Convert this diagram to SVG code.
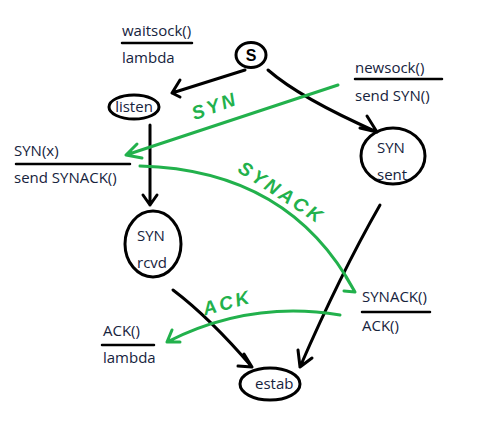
<svg xmlns="http://www.w3.org/2000/svg" width="502" height="439" viewBox="0 0 502 439">
<style>
.t{font-family:"Open Sans","Noto Sans","Liberation Sans",sans-serif;font-size:15px;fill:#16233d}
.k{fill:none;stroke:#000;stroke-width:3;stroke-linecap:round;stroke-linejoin:round}
.g{fill:none;stroke:#22b14c;stroke-width:3;stroke-linecap:round;stroke-linejoin:round}
.gl{font-family:"Liberation Sans",sans-serif;font-size:19px;font-weight:bold;font-style:italic;fill:#22b14c;letter-spacing:3px}
.u{stroke:#000;stroke-width:2.5;stroke-linecap:round}
</style>
<rect width="502" height="439" fill="#fff"/>
<g id="labels">
<text class="t" x="122" y="36">waitsock()</text>
<line class="u" x1="122" y1="43" x2="192" y2="43"/>
<text class="t" x="122" y="63">lambda</text>
<text class="t" x="355" y="73">newsock()</text>
<line class="u" x1="355" y1="79" x2="442" y2="79"/>
<text class="t" x="355" y="101">send SYN()</text>
<text class="t" x="14" y="156">SYN(x)</text>
<line class="u" x1="16" y1="164" x2="130" y2="164"/>
<text class="t" x="14" y="183">send SYNACK()</text>
<text class="t" x="362" y="302">SYNACK()</text>
<line class="u" x1="362" y1="312" x2="430" y2="312"/>
<text class="t" x="362" y="331">ACK()</text>
<text class="t" x="103" y="336">ACK()</text>
<line class="u" x1="102" y1="345" x2="154" y2="345"/>
<text class="t" x="103" y="363">lambda</text>
</g>
<g id="node-s"><ellipse class="k" cx="251" cy="55" rx="15" ry="12.5"/><text x="251" y="61" text-anchor="middle" style="font-family:'Liberation Sans',sans-serif;font-size:16px;font-weight:bold">S</text></g>
<g id="node-listen"><ellipse class="k" cx="134" cy="107" rx="25" ry="12"/><text class="t" x="134" y="112" text-anchor="middle">listen</text></g>
<g id="node-synsent"><ellipse class="k" cx="393" cy="156" rx="32" ry="28"/><text class="t" x="377" y="153">SYN</text><text class="t" x="377" y="180">sent</text></g>
<g id="node-synrcvd"><ellipse class="k" cx="153" cy="244" rx="28" ry="33"/><text class="t" x="137" y="241">SYN</text><text class="t" x="137" y="268">rcvd</text></g>
<g id="node-estab"><ellipse class="k" cx="270" cy="384" rx="30" ry="16"/><text class="t" x="255" y="389">estab</text></g>
<g id="connectors">
<path class="k" d="M245 70 L172 93 M172 93 L180 80 M172 93 L180 97"/>
<path class="k" d="M268 70 Q300 98 377 132 M377 132 L367 116 M377 132 L360 128"/>
<path class="k" d="M150 125 L150 205 M150 205 L143 195 M150 205 L157 195"/>
<path class="k" d="M173 290 Q210 318 252 367 M252 367 L244 354 M252 367 L238 366"/>
<path class="k" d="M380 205 Q340 275 300 367 M300 367 L298 350 M300 367 L312 358"/>
<path class="g" d="M338 85 L126 155 M126 155 L137 144 M126 155 L142 158"/>
<path class="g" d="M140 166 Q290 170 355 292 M355 292 L346 277 M355 292 L344 291"/>
<path class="g" d="M340 315 Q250 300 167 342 M167 342 L172 330 M167 342 L180 342"/>
<text class="gl" transform="translate(217,112) rotate(-20)" text-anchor="middle">SYN</text>
<text class="gl" transform="translate(278,198) rotate(33)" text-anchor="middle">SYNACK</text>
<text class="gl" transform="translate(229,309) rotate(-15)" text-anchor="middle">ACK</text>
</g>
</svg>
